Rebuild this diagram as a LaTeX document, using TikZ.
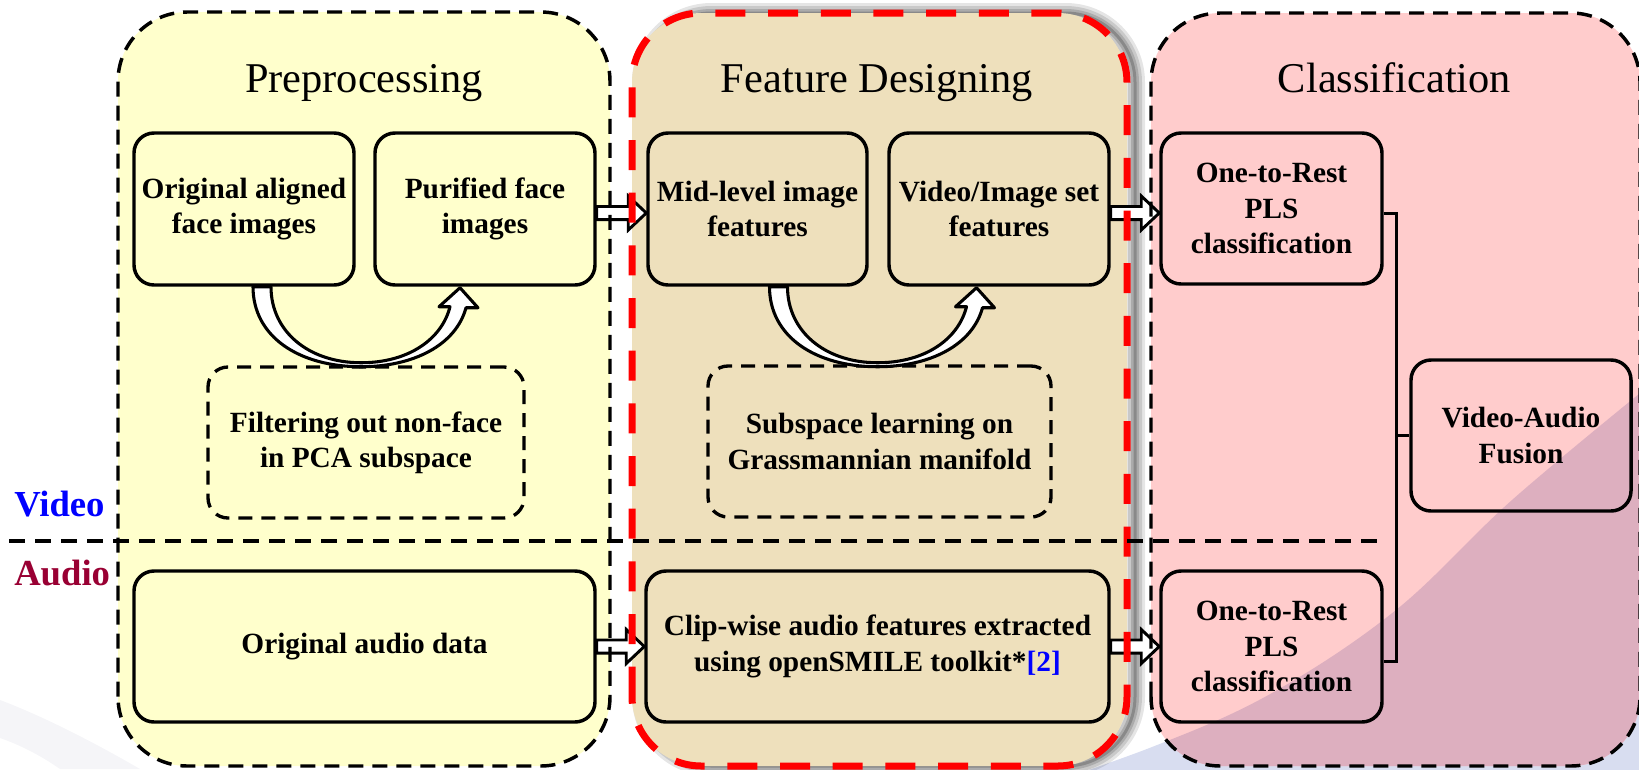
\documentclass[tikz,border=0pt]{standalone}
\usepackage{fontspec}
\setmainfont{Liberation Serif}
\usetikzlibrary{calc}

\definecolor{preyellow}{RGB}{255,255,204}
\definecolor{featan}{RGB}{238,224,188}
\definecolor{clspink}{RGB}{255,204,204}
\definecolor{clsmauve}{RGB}{221,175,191}
\definecolor{swooshblue}{RGB}{216,221,240}
\definecolor{swooshgray}{RGB}{245,245,248}
\definecolor{audiored}{RGB}{153,0,51}
\definecolor{refblue}{RGB}{0,0,255}
\definecolor{dashred}{RGB}{255,0,0}

\newcommand\titlefont{\fontsize{31.8}{38}\selectfont}
\newcommand\boxfont{\fontsize{22}{26.5}\selectfont\bfseries}
\newcommand\sidefont{\fontsize{27.5}{33}\selectfont\bfseries}

% hollow block arrow from the first point to the x of the second point
\newcommand\hollowarrow[2]{%
  \draw[blockarrow] let \p1=(#1), \p2=(#2) in
    (\x1,\y1+4.9pt) -- (\x2-13.5pt,\y1+4.9pt) -- (\x2-13.5pt,\y1+12.75pt)
    -- (\x2,\y1) -- (\x2-13.5pt,\y1-12.75pt) -- (\x2-13.5pt,\y1-4.9pt)
    -- (\x1,\y1-4.9pt) -- cycle;}

\tikzset{
  panel/.style={rectangle, inner sep=0pt, outer sep=0pt, rounded corners=52pt},
  paneledge/.style={draw=black, line width=2.6pt, dash pattern=on 11.25pt off 6.75pt, rounded corners=52pt},
  rededge/.style={draw=dashred, line width=5.25pt, dash pattern=on 22.5pt off 17pt, rounded corners=52pt},
  stagebox/.style={rectangle, draw=black, line width=2.6pt, rounded corners=15pt, align=center, font=\boxfont, inner sep=2pt},
  dashbox/.style={stagebox, line width=2.5pt, dash pattern=on 10.5pt off 6.75pt},
  paneltitle/.style={anchor=base, font=\titlefont, inner sep=0pt},
  sidelabel/.style={anchor=base west, font=\sidefont, inner sep=0pt},
  blockarrow/.style={draw=black, fill=white, line width=2.2pt, line join=miter},
  bendarrow/.style={draw=black, fill=white, line width=2.3pt, line join=round},
  divider/.style={draw=black, line width=2.5pt, dash pattern=on 12pt off 7.5pt},
  conn/.style={draw=black, line width=2.25pt},
}

\begin{document}
\begin{tikzpicture}[x=0.75pt, y=-0.75pt]
\useasboundingbox (0,0) rectangle (1639,769);

% backdrop swooshes
\fill[swooshgray] (0,700) .. controls (40,715) and (90,740) .. (140,769) -- (60,769) .. controls (40,755) and (20,745) .. (0,738) -- cycle;
\fill[swooshblue] plot[smooth, tension=0.6] coordinates {(1000,800) (1152,747) (1272,693) (1396,610) (1512,500) (1650,385)} -- (1650,800) -- cycle;

% soft shadow of the feature panel
\coordinate (shA) at (642,13);
\coordinate (shB) at (1135,766);
\foreach \w/\o in {15pt/0.10,10.5pt/0.12,6pt/0.15,2.25pt/0.2}
  \draw[black, opacity=\o, line width=\w, rounded corners=52pt] (shA) rectangle (shB);

% panel fills
\node[panel, fill=preyellow, minimum width=369pt, minimum height=565.5pt] (pre) at (364,389) {};
\node[panel, fill=featan, minimum width=371.25pt, minimum height=564.75pt] (fea) at (879.5,389.5) {};
\node[panel, fill=clspink, minimum width=366.75pt, minimum height=564.75pt] (cls) at (1395.5,389.5) {};

\begin{scope}
  \clip[rounded corners=52pt] (cls.south west) rectangle (cls.north east);
  \fill[clsmauve] plot[smooth, tension=0.6] coordinates {(1000,800) (1152,747) (1272,693) (1396,610) (1512,500) (1650,385)} -- (1650,800) -- cycle;
\end{scope}

% stage boxes
\node[stagebox, minimum width=165pt, minimum height=114pt] (ori) at (244,209) {Original aligned\\face images};
\node[stagebox, minimum width=165pt, minimum height=114pt] (pur) at (485,209) {Purified face\\images};
\node[dashbox, minimum width=237pt, minimum height=113.25pt] (filt) at (366,442.5) {Filtering out non-face\\in PCA subspace};
\node[stagebox, minimum width=164.25pt, minimum height=114pt] (mid) at (757.5,209) {Mid-level image\\features};
\node[stagebox, minimum width=165pt, minimum height=114pt] (vis) at (999,209) {Video/Image set\\features};
\node[dashbox, minimum width=257.25pt, minimum height=113.25pt] (sub) at (879.5,441.5) {Subspace learning on\\Grassmannian manifold};
\node[stagebox, minimum width=165.75pt, minimum height=113.25pt] (ort1) at (1271.5,208.5) {One-to-Rest\\PLS\\classification};
\node[stagebox, minimum width=165pt, minimum height=113.25pt] (fus) at (1521,435.5) {Video-Audio\\Fusion};
\node[stagebox, minimum width=165.75pt, minimum height=113.25pt] (ort2) at (1271.5,646.5) {One-to-Rest\\PLS\\classification};
\node[stagebox, minimum width=345.75pt, minimum height=113.25pt] (aud) at (364.5,646.5) {Original audio data};
\node[stagebox, minimum width=347.25pt, minimum height=113.25pt] (clip) at (877.5,646.5) {Clip-wise audio features extracted\\using openSMILE toolkit*{\color{refblue}[2]}};

% block arrows between stages
\hollowarrow{$(pur.east)+(0,4)$}{mid.west}
\hollowarrow{$(vis.east)+(0,4)$}{ort1.west}
\hollowarrow{aud.east}{clip.west}
\hollowarrow{clip.east}{ort2.west}

% curved arrows under the top rows
\begin{scope}[shift={(ori.south)}]
  \draw[bendarrow] (27,0) .. controls (27,45) and (65,76) .. (117,76)
    .. controls (165,76) and (198,52) .. (206,20) -- (195,20) -- (216,1) -- (234,21) -- (222,21)
    .. controls (212,58) and (170,80) .. (117,80) .. controls (55,80) and (9,50) .. (9,0) -- cycle;
\end{scope}
\begin{scope}[shift={($(mid.south)+(3,0)$)}]
  \draw[bendarrow] (27,0) .. controls (27,45) and (65,76) .. (117,76)
    .. controls (165,76) and (198,52) .. (206,20) -- (195,20) -- (216,1) -- (234,21) -- (222,21)
    .. controls (212,58) and (170,80) .. (117,80) .. controls (55,80) and (9,50) .. (9,0) -- cycle;
\end{scope}

% panel borders
\draw[paneledge] (pre.south west) rectangle (pre.north east);
\draw[rededge] (fea.south west) rectangle (fea.north east);
\draw[paneledge] (cls.south west) rectangle (cls.north east);

% video / audio divider
\coordinate (divL) at (9,541);
\coordinate (divR) at (1387,541);
\draw[divider] (divL) -- (divR);

% fusion connector
\coordinate (bus) at (1396,435.5);
\draw[conn] ($(ort1.east)+(0,4.5)$) -| (bus) |- ($(ort2.east)+(0,14.5)$);
\draw[conn] (bus) -- (fus.west);

% panel titles
\node[paneltitle] (tpre) at (364,92) {Preprocessing};
\node[paneltitle] (tfea) at (877,92) {Feature Designing};
\node[paneltitle] (tcls) at (1394.5,92) {Classification};

% stream labels
\node[sidelabel, text=refblue] (lvid) at (14,516) {Video};
\node[sidelabel, text=audiored] (laud) at (14,585) {Audio};
\end{tikzpicture}
\end{document}
